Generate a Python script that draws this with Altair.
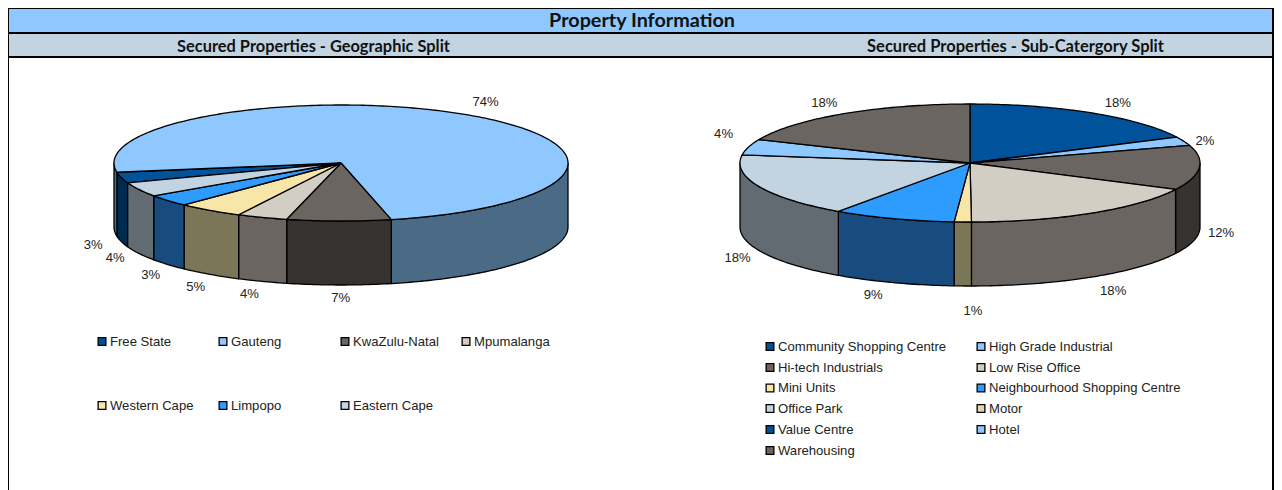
import numpy as np
import pandas as pd
import altair as alt

# ---- data ----
geo_names = ["Free State", "Gauteng", "KwaZulu-Natal", "Mpumalanga", "Western Cape", "Limpopo", "Eastern Cape"]
geo_values = [3.0, 74.0, 7.4, 3.6, 4.7, 3.3, 4.0]
geo_top = ["#00539A", "#8EC8FF", "#6A6560", "#D2CEC3", "#F8E6A8", "#2E9BFF", "#C2D4E2"]
geo_side = ["#002B50", "#4A6A86", "#35322F", "#6A6560", "#7B7658", "#184C7F", "#626B72"]

sub_names = ["Community Shopping Centre", "High Grade Industrial", "Hi-tech Industrials", "Low Rise Office",
             "Mini Units", "Neighbourhood Shopping Centre", "Office Park", "Motor", "Value Centre", "Hotel",
             "Warehousing"]
sub_values = [17.8, 2.4, 12.2, 17.5, 1.2, 8.6, 17.5, 0.0, 0.0, 4.3, 18.5]
sub_top = ["#00539A", "#8EC8FF", "#6A6560", "#D2CEC3", "#F8E6A8", "#2E9BFF", "#C2D4E2", "#E0D6B0", "#00539A",
           "#8EC8FF", "#6A6560"]
sub_side = ["#002B50", "#4A6A86", "#35322F", "#6A6560", "#7B7658", "#184C7F", "#626B72", "#7B7658", "#002B50",
            "#4A6A86", "#35322F"]

title_main = "Property Information"
title_left = "Secured Properties - Geographic Split"
title_right = "Secured Properties - Sub-Catergory Split"

# ---- layout ----
W, H = 1266, 482
X0, Y0 = 8, 8
geo_pie = dict(cx=341, cy=163, rx=227, ry=58, depth=64, start=250)
sub_pie = dict(cx=970, cy=163, rx=230, ry=59, depth=64, start=0)
geo_nudge = [(-1, 0), (2, -3), (2, 1), (-3, 1), (2, 3), (4, 3), (1, -1)]
sub_nudge = [(11, 0), (-5, 4), (-6, 0), (7, 4), (11, 13), (-11, 1), (4, 3), (0, 0), (0, 0), (2, -10), (-4, -1)]


def pie_rows(name, values, top, side, p, nudge):
    polys, labels = [], []
    walls, tops = [], []
    cum = p["start"]
    for k, v in enumerate(values):
        if v <= 0:
            continue
        a0, a1 = cum, cum + v * 3.6
        cum = a1
        mid = (a0 + a1) / 2
        ts = np.linspace(a0, a1, max(int(a1 - a0) + 2, 3))
        ex = p["cx"] + p["rx"] * np.sin(np.radians(ts))
        ey = p["cy"] - p["ry"] * np.cos(np.radians(ts))
        tops.append((f"{name}-t{k}", top[k], [p["cx"], *ex, p["cx"]], [p["cy"], *ey, p["cy"]]))
        # visible part of the wall: front half of the rim
        for shift in (0, 360):
            lo, hi = max(a0, 90 + shift), min(a1, 270 + shift)
            if hi > lo:
                ws = np.linspace(lo, hi, max(int(hi - lo) + 2, 3))
                wx = p["cx"] + p["rx"] * np.sin(np.radians(ws))
                wy = p["cy"] - p["ry"] * np.cos(np.radians(ws))
                walls.append((f"{name}-w{k}-{shift}", side[k],
                              [*wx, *wx[::-1], wx[0]],
                              [*wy, *(wy[::-1] + p["depth"]), wy[0]]))
        s, c = np.sin(np.radians(mid)), np.cos(np.radians(mid))
        lx = p["cx"] + (p["rx"]) * s + 28 * s + nudge[k][0]
        ly = p["cy"] - p["ry"] * c - 12 * c + (p["depth"] if c < 0 else 0) + nudge[k][1]
        labels.append({"x": lx, "y": ly, "t": f"{round(v)}%"})
    for g, col, xs, ys in walls + tops:
        polys += [{"g": g, "c": col, "x": x, "y": y, "i": i} for i, (x, y) in enumerate(zip(xs, ys))]
    return polys, labels


geo_poly, geo_lab = pie_rows("geo", geo_values, geo_top, geo_side, geo_pie, geo_nudge)
sub_poly, sub_lab = pie_rows("sub", sub_values, sub_top, sub_side, sub_pie, sub_nudge)

# legend layout
legend = []
for n, (nm, col) in enumerate(zip(geo_names, geo_top)):
    r, c = (0, n) if n < 4 else (1, n - 4)
    legend.append({"x": [102, 223, 345, 466][c], "y": [341.5, 405.5][r], "t": nm, "c": col})
sub_rows = [346.5, 367.5, 388, 408.5, 429.5, 450.5]
for n, (nm, col) in enumerate(zip(sub_names, sub_top)):
    legend.append({"x": [770, 981][n % 2], "y": sub_rows[n // 2], "t": nm, "c": col})
legend = pd.DataFrame(legend)
legend["tx"] = legend["x"] + 8

sx = alt.Scale(domain=[X0, X0 + W], range=[0, W], nice=False, zero=False)
sy = alt.Scale(domain=[Y0 + H, Y0], range=[H, 0], nice=False, zero=False)
X = lambda f: alt.X(f, type="quantitative", scale=sx, axis=None)
Y = lambda f: alt.Y(f, type="quantitative", scale=sy, axis=None)

R = X0 + W  # right edge of the drawing area
bands = pd.DataFrame([
    {"x": 8, "x2": R - 1, "y": 8, "y2": 33, "c": "#8EC8FF"},
    {"x": 8, "x2": R - 1, "y": 33, "y2": 57, "c": "#C2D4E2"},
])
lines = pd.DataFrame([
    {"x": 8, "x2": R, "y": 8, "y2": 9},
    {"x": 8, "x2": R, "y": 32, "y2": 34},
    {"x": 8, "x2": R, "y": 56, "y2": 58},
    {"x": 8, "x2": 9, "y": 8, "y2": 8 + H},
    {"x": R - 2, "x2": R, "y": 8, "y2": 8 + H},
])
heads = pd.DataFrame([
    {"x": 642, "y": 20.5, "t": title_main, "s": 19.8},
    {"x": 313.5, "y": 47, "t": title_left, "s": 16.4},
    {"x": 1015.5, "y": 47, "t": title_right, "s": 16.5},
])

band_l = alt.Chart(bands).mark_rect().encode(X("x"), x2="x2", y=Y("y"), y2="y2", color=alt.Color("c:N", scale=None))
line_l = alt.Chart(lines).mark_rect(color="black").encode(X("x"), x2="x2", y=Y("y"), y2="y2")
head_l = alt.Chart(heads).mark_text(font="Lato", fontWeight="bold", color="#111111", align="center", baseline="middle").encode(
    X("x"), Y("y"), text="t:N", size=alt.Size("s:Q", scale=None))

def pie_layer(rows):
    return alt.Chart(pd.DataFrame(rows)).mark_line(stroke="black", strokeWidth=1.3, strokeJoin="round").encode(
        X("x"), Y("y"), order="i:Q", detail="g:N", fill=alt.Fill("c:N", scale=None))

lab_l = alt.Chart(pd.DataFrame(geo_lab + sub_lab)).mark_text(
    font="Liberation Sans", fontSize=13.1, color="#222222", align="center", baseline="middle").encode(X("x"), Y("y"), text="t:N")
leg_sq = alt.Chart(legend).mark_square(size=60, stroke="black", strokeWidth=1.3, opacity=1).encode(
    X("x"), Y("y"), fill=alt.Fill("c:N", scale=None))
leg_tx = alt.Chart(legend).mark_text(font="Liberation Sans", fontSize=13.1, color="#222222", align="left", baseline="middle").encode(
    X("tx"), Y("y"), text="t:N")

chart = alt.layer(band_l, line_l, head_l, pie_layer(geo_poly), pie_layer(sub_poly), lab_l, leg_sq, leg_tx).properties(
    width=W, height=H, padding=0, autosize=alt.AutoSizeParams(type="none"), background="white"
).configure_view(strokeWidth=0)

chart.save("out.html", embed_options={"renderer": "svg", "actions": False})
